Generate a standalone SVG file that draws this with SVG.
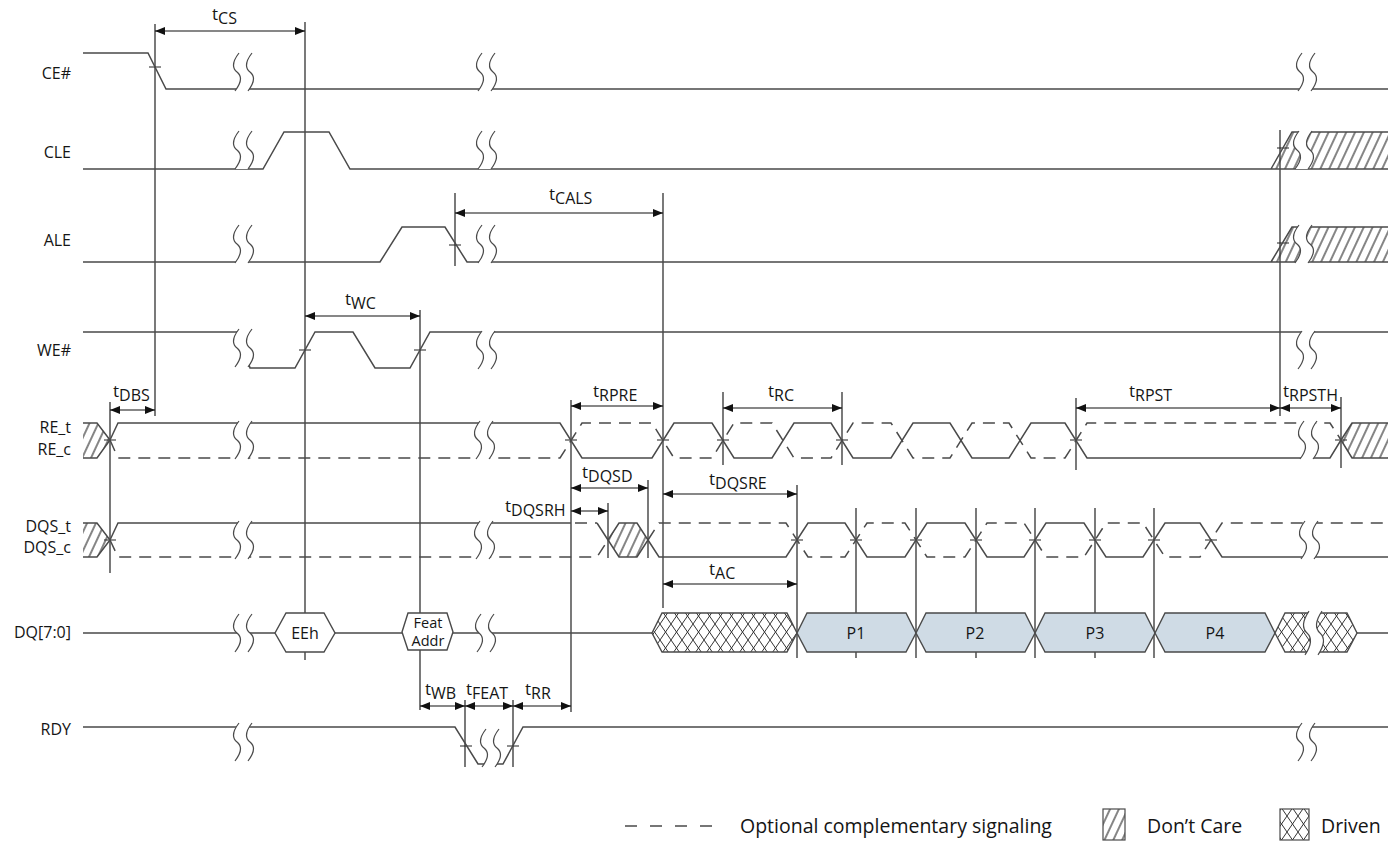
<svg xmlns="http://www.w3.org/2000/svg" width="1398" height="842" viewBox="0 0 1398 842">
<style>
.sig{fill:none;stroke:#4a4a4a;stroke-width:1.5}
.dsh{fill:none;stroke:#4a4a4a;stroke-width:1.5;stroke-dasharray:12 8}
.vl{fill:none;stroke:#222;stroke-width:1.2}
.dim{fill:none;stroke:#111;stroke-width:1.2;marker-start:url(#ah);marker-end:url(#ah)}
.tk{fill:none;stroke:#222;stroke-width:1.2}
.lbl{font-family:"Open Sans","Noto Sans","Liberation Sans",sans-serif;font-size:16px;fill:#151515}
.tl{font-family:"Open Sans","Noto Sans","Liberation Sans",sans-serif;font-size:17px;fill:#151515}
.sub{font-size:16px}
.lg{font-family:"Open Sans","Noto Sans","Liberation Sans",sans-serif;font-size:19.5px;fill:#151515}
.fa{font-family:"Open Sans","Noto Sans","Liberation Sans",sans-serif;font-size:14.5px;fill:#151515}
.dcf{fill:url(#hatch);stroke:none}
.drv{fill:url(#xh);stroke:#4a4a4a;stroke-width:1.4}
.pk{fill:#cfdbe5;stroke:#4a4a4a;stroke-width:1.4}
.hex{fill:#fff;stroke:#4a4a4a;stroke-width:1.4}
.mid{text-anchor:middle}
.end{text-anchor:end}
</style>
<defs>
<marker id="ah" viewBox="0 0 10 8" refX="10" refY="4" markerWidth="10" markerHeight="8" markerUnits="userSpaceOnUse" orient="auto-start-reverse"><path d="M0,0 L10,4 L0,8 z" fill="#111"/></marker>
<pattern id="hatch" patternUnits="userSpaceOnUse" width="8" height="8" patternTransform="rotate(25)"><line x1="4" y1="-1" x2="4" y2="9" stroke="#333" stroke-width="1.2"/></pattern>
<pattern id="xh" patternUnits="userSpaceOnUse" width="11" height="16"><rect width="11" height="16" fill="#fff"/><path d="M0,0 L11,16 M11,0 L0,16" stroke="#333" stroke-width="1"/></pattern>
<g id="brk"><path fill="#fff" stroke="none" d="M2,-19 C-5,-10 -5,-4 0,0 C5,4 5,10 -2,19 L11,19 C18,10 18,4 13,0 C8,-4 8,-10 15,-19 Z"/><path fill="none" stroke="#4a4a4a" stroke-width="1.2" d="M2,-19 C-5,-10 -5,-4 0,0 C5,4 5,10 -2,19 M15,-19 C8,-10 8,-4 13,0 C18,4 18,10 11,19"/></g>
</defs>
<rect width="1398" height="842" fill="#fff"/>

<g id="connectors">
<path class="vl" d="M155,24 V416 M305,22 V660 M110,402 V573 M420,310 V710 M455,193 V266 M663,193 V608 M571,400 V712 M648,480 V558 M608,503 V558 M723,392 V465 M842,392 V465 M797,485 V658 M856,508 V658 M916,508 V658 M976,508 V658 M1035,508 V658 M1095,508 V658 M1154,508 V658 M1076,398 V470 M1280,130 V416 M1341,397 V468 M465,700 V767 M513,700 V767"/>
<path class="tk" d="M149,67 h12 M299,350 h12 M414,350 h12 M449,245 h12 M1277,148 h12 M1277,243 h12 M104,440 h12 M565,440 h12 M657,440 h12 M717,440 h12 M836,440 h12 M1070,440 h12 M1335,440 h12 M104,540 h12 M791,540 h12 M850,540 h12 M910,540 h12 M970,540 h12 M1029,540 h12 M1089,540 h12 M1148,540 h12 M1205,540 h12 M460,746 h12 M507,746 h12"/>
<path class="dim" d="M155,31 H305"/>
<path class="dim" d="M455,213 H663"/>
<path class="dim" d="M305,316 H420"/>
<path class="dim" d="M110,410 H155"/>
<path class="dim" d="M571,406 H663"/>
<path class="dim" d="M723,408 H842"/>
<path class="dim" d="M1076,408 H1280"/>
<path class="dim" d="M1280,408 H1341"/>
<path class="dim" d="M571,488 H648"/>
<path class="dim" d="M571,511 H608"/>
<path class="dim" d="M663,494 H797"/>
<path class="dim" d="M663,584 H797"/>
<path class="dim" d="M420,706 H465"/>
<path class="dim" d="M465,706 H513"/>
<path class="dim" d="M513,706 H571"/>
<text class="tl" x="212" y="20">t<tspan class="sub" dy="4">CS</tspan></text>
<text class="tl" x="549" y="200">t<tspan class="sub" dy="4">CALS</tspan></text>
<text class="tl" x="345" y="305">t<tspan class="sub" dy="4">WC</tspan></text>
<text class="tl" x="113" y="397">t<tspan class="sub" dy="4">DBS</tspan></text>
<text class="tl" x="593" y="397">t<tspan class="sub" dy="4">RPRE</tspan></text>
<text class="tl" x="768" y="397">t<tspan class="sub" dy="4">RC</tspan></text>
<text class="tl" x="1129" y="397">t<tspan class="sub" dy="4">RPST</tspan></text>
<text class="tl" x="1283" y="397">t<tspan class="sub" dy="4">RPSTH</tspan></text>
<text class="tl" x="582" y="478">t<tspan class="sub" dy="4">DQSD</tspan></text>
<text class="tl" x="709" y="485">t<tspan class="sub" dy="4">DQSRE</tspan></text>
<text class="tl" x="505" y="512">t<tspan class="sub" dy="4">DQSRH</tspan></text>
<text class="tl" x="709" y="575">t<tspan class="sub" dy="4">AC</tspan></text>
<text class="tl" x="425" y="695">t<tspan class="sub" dy="4">WB</tspan></text>
<text class="tl" x="466" y="695">t<tspan class="sub" dy="4">FEAT</tspan></text>
<text class="tl" x="525" y="695">t<tspan class="sub" dy="4">RR</tspan></text>
</g>

<g id="ce">
<text class="lbl end" x="71" y="79">CE#</text>
<path class="sig" d="M83,53 H148 L166,89 H1388"/>
<use href="#brk" x="237" y="72"/><use href="#brk" x="480" y="72"/><use href="#brk" x="1300" y="72"/>
</g>

<g id="cle">
<text class="lbl end" x="71" y="158">CLE</text>
<polygon class="dcf" points="1271,169 1292,132 1388,132 1388,169"/>
<path class="sig" d="M83,169 H263 L284,132 H329 L350,169 H1388 M1271,169 L1292,132 H1388"/>
<use href="#brk" x="237" y="150"/><use href="#brk" x="480" y="150"/><use href="#brk" x="1297" y="150"/>
</g>

<g id="ale">
<text class="lbl end" x="71" y="246">ALE</text>
<polygon class="dcf" points="1271,262 1292,227 1388,227 1388,262"/>
<path class="sig" d="M83,262 H380 L402,227 H445 L467,262 H1388 M1271,262 L1292,227 H1388"/>
<use href="#brk" x="237" y="244"/><use href="#brk" x="480" y="244"/><use href="#brk" x="1297" y="244"/>
</g>

<g id="we">
<text class="lbl end" x="71" y="356">WE#</text>
<path class="sig" d="M83,332 H240 L250,368 H295 L315,332 H353 L375,368 H410 L430,332 H1388"/>
<use href="#brk" x="237" y="348"/><use href="#brk" x="480" y="350"/><use href="#brk" x="1300" y="350"/>
</g>

<g id="re">
<text class="lbl end" x="71" y="433">RE_t</text>
<text class="lbl end" x="71" y="455">RE_c</text>
<polygon class="dcf" points="83,423 97,423 110,440 97,458 83,458"/>
<path class="sig" d="M83,423 H97 L110,440 L97,458 H83"/>
<path class="sig" d="M110,440 L118,423 H560 L582,458 H652 L674,423 H712 L734,458 H772 L794,423 H831 L853,458 H891 L913,423 H950 L972,458 H1009 L1031,423 H1065 L1087,458 H1330 L1341,440"/>
<path class="dsh" d="M110,440 L118,458 H560 L582,423 H652 L674,458 H712 L734,423 H772 L794,458 H831 L853,423 H891 L913,458 H950 L972,423 H1009 L1031,458 H1065 L1087,423 H1330 L1341,440"/>
<polygon class="dcf" points="1341,440 1352,423 1388,423 1388,458 1352,458"/>
<path class="sig" d="M1388,423 H1352 L1341,440 L1352,458 H1388"/>
<use href="#brk" x="237" y="440"/><use href="#brk" x="478" y="440"/><use href="#brk" x="1302" y="440"/>
</g>

<g id="dqs">
<text class="lbl end" x="71" y="532">DQS_t</text>
<text class="lbl end" x="71" y="553">DQS_c</text>
<polygon class="dcf" points="83,523 97,523 110,540 97,557 83,557"/>
<path class="sig" d="M83,523 H97 L110,540 L97,557 H83"/>
<path class="sig" d="M110,540 L118,523 H571 M597,523 L608,540"/>
<path class="dsh" d="M575,523 H597"/>
<path class="dsh" d="M110,540 L118,557 H597 L608,540"/>
<polygon class="dcf" points="608,540 619,523 637,523 648,540 637,557 619,557"/>
<path class="sig" d="M608,540 L619,523 H637 L648,540 L637,557 H619 Z"/>
<path class="sig" d="M648,540 L659,557 H786 L808,523 H845 L867,557 H905 L927,523 H965 L987,557 H1024 L1046,523 H1084 L1106,557 H1143 L1165,523 H1200 L1222,557 H1388"/>
<path class="dsh" d="M648,540 L659,523 H786 L808,557 H845 L867,523 H905 L927,557 H965 L987,523 H1024 L1046,557 H1084 L1106,523 H1143 L1165,557 H1200 L1222,523 H1388"/>
<use href="#brk" x="237" y="540"/><use href="#brk" x="478" y="540"/><use href="#brk" x="1303" y="540"/>
</g>

<g id="dq">
<text class="lbl end" x="71" y="638">DQ[7:0]</text>
<path class="sig" d="M83,633 H275 M335,633 H402 M453,633 H652 M1357,633 H1388"/>
<polygon class="hex" points="275,633 286,613 324,613 335,633 324,652 286,652"/>
<text class="lbl mid" x="305" y="639">EEh</text>
<polygon class="hex" points="402,632 408,613 447,613 453,632 447,650 408,650"/>
<text class="fa mid" x="428" y="628">Feat</text>
<text class="fa mid" x="428" y="646">Addr</text>
<polygon class="drv" points="652,633 662,613 787,613 797,633 787,652 662,652"/>
<polygon class="pk" points="797,633 807,613 906,613 916,633 906,652 807,652"/>
<polygon class="pk" points="916,633 926,613 1025,613 1035,633 1025,652 926,652"/>
<polygon class="pk" points="1035,633 1045,613 1145,613 1155,633 1145,652 1045,652"/>
<polygon class="pk" points="1155,633 1165,613 1265,613 1275,633 1265,652 1165,652"/>
<text class="lbl mid" x="856" y="639">P1</text>
<text class="lbl mid" x="975" y="639">P2</text>
<text class="lbl mid" x="1095" y="639">P3</text>
<text class="lbl mid" x="1215" y="639">P4</text>
<polygon class="drv" points="1275,633 1285,613 1313,613 1313,652 1285,652"/>
<polygon class="drv" points="1316,613 1347,613 1357,633 1347,652 1316,652"/>
<use href="#brk" x="237" y="633"/><use href="#brk" x="479" y="633"/>
<use href="#brk" transform="translate(1307,633) scale(1,1.15)"/>
</g>

<g id="rdy">
<text class="lbl end" x="71" y="735">RDY</text>
<path class="sig" d="M83,727 H455 L478,764 H503 L523,727 H1388"/>
<use href="#brk" x="237" y="742"/><use href="#brk" x="484" y="748"/><use href="#brk" x="1300" y="742"/>
</g>

<g id="legend">
<path class="sig" d="M625,826 H712" stroke-dasharray="12 13"/>
<text class="lg" x="740" y="833">Optional complementary signaling</text>
<rect x="1103" y="809" width="22" height="31" fill="url(#hatch)" stroke="#4a4a4a" stroke-width="1.2"/>
<text class="lg" x="1147" y="833">Don’t Care</text>
<rect x="1280" y="809" width="29" height="31" fill="url(#xh)" stroke="#4a4a4a" stroke-width="1.2"/>
<text class="lg" x="1321" y="833">Driven</text>
</g>
</svg>
